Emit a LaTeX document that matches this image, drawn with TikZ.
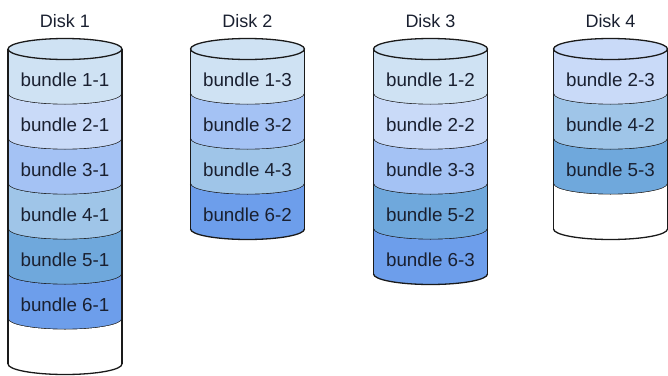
\documentclass[tikz,border=0pt]{standalone}
\usepackage{fontspec}
\setmainfont{Liberation Sans}
\definecolor{bA}{HTML}{CFE2F3}
\definecolor{bB}{HTML}{C9DAF8}
\definecolor{bC}{HTML}{A4C2F4}
\definecolor{bD}{HTML}{9FC5E8}
\definecolor{bE}{HTML}{6FA8DC}
\definecolor{bF}{HTML}{6D9EEB}
\definecolor{edgec}{HTML}{1A1A1A}
\definecolor{txtc}{HTML}{1A2030}
\tikzset{
  disktitle/.style={anchor=base,inner sep=0pt,text=txtc,font=\fontsize{18}{22}\selectfont},
  bandtext/.style={anchor=base,inner sep=0pt,text=txtc,font=\fontsize{18.8}{22}\selectfont},
  outline/.style={draw=edgec,line width=1.3pt},
}
% #1 cx, #2 name, #3 title, #4 number of bands, #5 top colour, #6 list colour/label
\newcommand\mydiskcyl[6]{%
  \node[disktitle] (#2t) at (#1,-27) {#3};
  \foreach \c/\t [count=\k from 0] in {#6} {
    \pgfmathsetmacro\ya{-49-\k*45}
    \pgfmathsetmacro\yb{\ya-45}
    \fill[fill=\c] (#1-57,\ya) arc[start angle=180,end angle=360,x radius=57,y radius=10.5]
      -- (#1+57,\yb) arc[start angle=0,end angle=-180,x radius=57,y radius=10.5] -- cycle;
    \draw[outline] (#1-57,\yb) arc[start angle=180,end angle=360,x radius=57,y radius=10.5];
    \node[bandtext] (#2-\k) at (#1,\ya-37) {\t};
  }
  \pgfmathsetmacro\yn{-49-#4*45}
  \draw[outline] (#1-57,-49) -- (#1-57,\yn);
  \draw[outline] (#1+57,-49) -- (#1+57,\yn);
  \draw[outline,fill=#5] (#1,-49) ellipse[x radius=57,y radius=10.5];
}
\begin{document}
\begin{tikzpicture}[x=1pt,y=1pt]
\useasboundingbox (0,0) rectangle (668,-375);
\mydiskcyl{65}{d1}{Disk 1}{7}{bA}{bA/bundle 1-1,bB/bundle 2-1,bC/bundle 3-1,bD/bundle 4-1,bE/bundle 5-1,bF/bundle 6-1,white/{}}
\mydiskcyl{247.5}{d2}{Disk 2}{4}{bA}{bA/bundle 1-3,bC/bundle 3-2,bD/bundle 4-3,bF/bundle 6-2}
\mydiskcyl{430.5}{d3}{Disk 3}{5}{bA}{bA/bundle 1-2,bB/bundle 2-2,bC/bundle 3-3,bE/bundle 5-2,bF/bundle 6-3}
\mydiskcyl{610.5}{d4}{Disk 4}{4}{bB}{bB/bundle 2-3,bD/bundle 4-2,bE/bundle 5-3,white/{}}
\end{tikzpicture}
\end{document}
